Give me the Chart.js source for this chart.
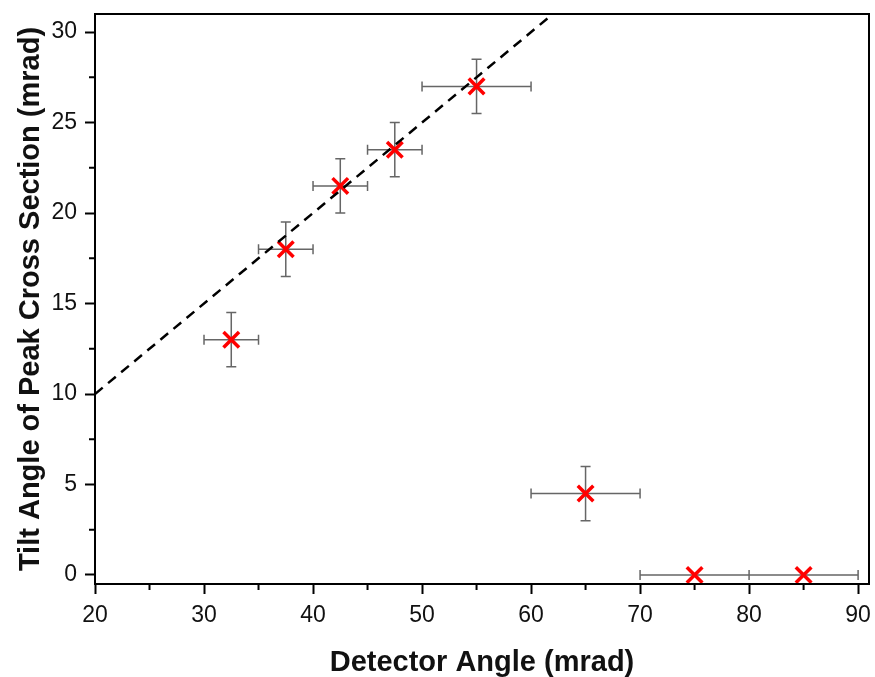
<!DOCTYPE html>
<html lang="en">

<head>
    <meta charset="UTF-8">
    <title>Tilt Angle vs Detector Angle</title>
    <script src="https://cdn.jsdelivr.net/npm/chart.js"></script>
    <style>
        body { margin: 0; background: #fff; }
        #wrap { width: 875px; height: 677px; position: relative; }
    </style>
</head>

<body>
    <div id="wrap">
        <canvas id="tiltChart"></canvas>
    </div>

    <script>
        // measured points (mrad)
        const detectorAngle = [32.5, 37.5, 42.5, 47.5, 55, 65, 75, 85];
        const tiltAngle = [13, 18, 21.5, 23.5, 27, 4.5, 0, 0];
        const detectorErr = [2.5, 2.5, 2.5, 2.5, 5, 5, 5, 5];
        const tiltErr = [1.5, 1.5, 1.5, 1.5, 1.5, 1.5, 0, 0];

        // dashed guide line (y = x / 2), end points
        const guideX = [20, 61.5];
        const guideY = [10, 30.75];

        // tick positions, labels only on the majors
        const xTicks = [20, 25, 30, 35, 40, 45, 50, 55, 60, 65, 70, 75, 80, 85, 90];
        const yTicks = [0, 2.5, 5, 7.5, 10, 12.5, 15, 17.5, 20, 22.5, 25, 27.5, 30];

        const font = 'Liberation Sans, Arial, Helvetica, sans-serif';

        // error bars, drawn under the markers
        const errorBars = {
            id: 'errorBars',
            beforeDatasetsDraw(chart) {
                const { ctx, scales: { x, y } } = chart;
                const cap = 5;
                ctx.save();
                ctx.strokeStyle = '#666666';
                ctx.lineWidth = 1.5;
                ctx.beginPath();
                detectorAngle.forEach((v, i) => {
                    const px = x.getPixelForValue(v);
                    const py = y.getPixelForValue(tiltAngle[i]);
                    if (detectorErr[i] > 0) {
                        const x0 = x.getPixelForValue(v - detectorErr[i]);
                        const x1 = x.getPixelForValue(v + detectorErr[i]);
                        ctx.moveTo(x0, py); ctx.lineTo(x1, py);
                        ctx.moveTo(x0, py - cap); ctx.lineTo(x0, py + cap);
                        ctx.moveTo(x1, py - cap); ctx.lineTo(x1, py + cap);
                    }
                    if (tiltErr[i] > 0) {
                        const y0 = y.getPixelForValue(tiltAngle[i] - tiltErr[i]);
                        const y1 = y.getPixelForValue(tiltAngle[i] + tiltErr[i]);
                        ctx.moveTo(px, y0); ctx.lineTo(px, y1);
                        ctx.moveTo(px - cap, y0); ctx.lineTo(px + cap, y0);
                        ctx.moveTo(px - cap, y1); ctx.lineTo(px + cap, y1);
                    }
                });
                ctx.stroke();
                ctx.restore();
            }
        };

        // box frame plus the short minor ticks
        const frame = {
            id: 'frame',
            afterDraw(chart) {
                const { ctx, chartArea: a, scales: { x, y } } = chart;
                ctx.save();
                ctx.strokeStyle = '#000';
                ctx.lineWidth = 2;
                ctx.strokeRect(a.left, a.top, a.right - a.left, a.bottom - a.top);
                ctx.beginPath();
                xTicks.forEach(v => {
                    if (v % 10 === 0) return;
                    const px = x.getPixelForValue(v);
                    ctx.moveTo(px, a.bottom); ctx.lineTo(px, a.bottom + 6);
                });
                yTicks.forEach(v => {
                    if (v % 5 === 0) return;
                    const py = y.getPixelForValue(v);
                    ctx.moveTo(a.left, py); ctx.lineTo(a.left - 6, py);
                });
                ctx.stroke();
                ctx.restore();
            }
        };

        const ctx = document.getElementById('tiltChart').getContext('2d');
        new Chart(ctx, {
            type: 'scatter',
            data: {
                datasets: [{
                    type: 'line',
                    data: guideX.map((v, i) => ({ x: v, y: guideY[i] })),
                    borderColor: '#000',
                    borderWidth: 2.5,
                    borderDash: [10, 7],
                    pointRadius: 0,
                    fill: false
                }, {
                    data: detectorAngle.map((v, i) => ({ x: v, y: tiltAngle[i] })),
                    pointStyle: 'crossRot',
                    pointRadius: 11,
                    pointBorderWidth: 3.5,
                    borderColor: '#ff0000',
                    backgroundColor: '#ff0000',
                    clip: false
                }]
            },
            options: {
                responsive: true,
                maintainAspectRatio: false,
                animation: false,
                layout: { autoPadding: false, padding: { top: 14, right: 6, left: 0, bottom: 0 } },
                plugins: {
                    legend: { display: false },
                    tooltip: { enabled: false }
                },
                scales: {
                    x: {
                        type: 'linear',
                        min: 20,
                        max: 91,
                        afterBuildTicks: s => { s.ticks = xTicks.map(v => ({ value: v })); },
                        afterFit: s => { s.height = 93; s.paddingLeft = 0; s.paddingRight = 0; },
                        border: { display: true, color: '#000', width: 2 },
                        grid: {
                            drawOnChartArea: false,
                            drawTicks: true,
                            tickLength: 10,
                            tickWidth: 2,
                            tickColor: c => (c.tick && c.tick.value % 10 === 0 ? '#000' : 'rgba(0,0,0,0)')
                        },
                        ticks: {
                            color: '#111',
                            padding: 8,
                            font: { family: font, size: 23 },
                            maxRotation: 0,
                            autoSkip: false,
                            callback: v => (v % 10 === 0 ? String(v) : '')
                        },
                        title: {
                            display: true,
                            text: 'Detector Angle (mrad)',
                            color: '#111',
                            padding: { top: 0, bottom: 0 },
                            font: { family: font, size: 29, weight: 'bold', lineHeight: 1 }
                        }
                    },
                    y: {
                        type: 'linear',
                        min: -0.5,
                        max: 31,
                        afterBuildTicks: s => { s.ticks = yTicks.map(v => ({ value: v })); },
                        afterFit: s => { s.width = 95; s.paddingTop = 0; s.paddingBottom = 0; },
                        border: { display: true, color: '#000', width: 2 },
                        grid: {
                            drawOnChartArea: false,
                            drawTicks: true,
                            tickLength: 10,
                            tickWidth: 2,
                            tickColor: c => (c.tick && c.tick.value % 5 === 0 ? '#000' : 'rgba(0,0,0,0)')
                        },
                        ticks: {
                            color: '#111',
                            padding: 8,
                            font: { family: font, size: 23 },
                            autoSkip: false,
                            callback: v => (v % 5 === 0 ? String(v) : '')
                        },
                        title: {
                            display: true,
                            text: 'Tilt Angle of Peak Cross Section (mrad)',
                            color: '#111',
                            padding: { top: 16, bottom: 0 },
                            font: { family: font, size: 29, weight: 'bold', lineHeight: 1 }
                        }
                    }
                }
            },
            plugins: [errorBars, frame]
        });
    </script>
</body>

</html>
